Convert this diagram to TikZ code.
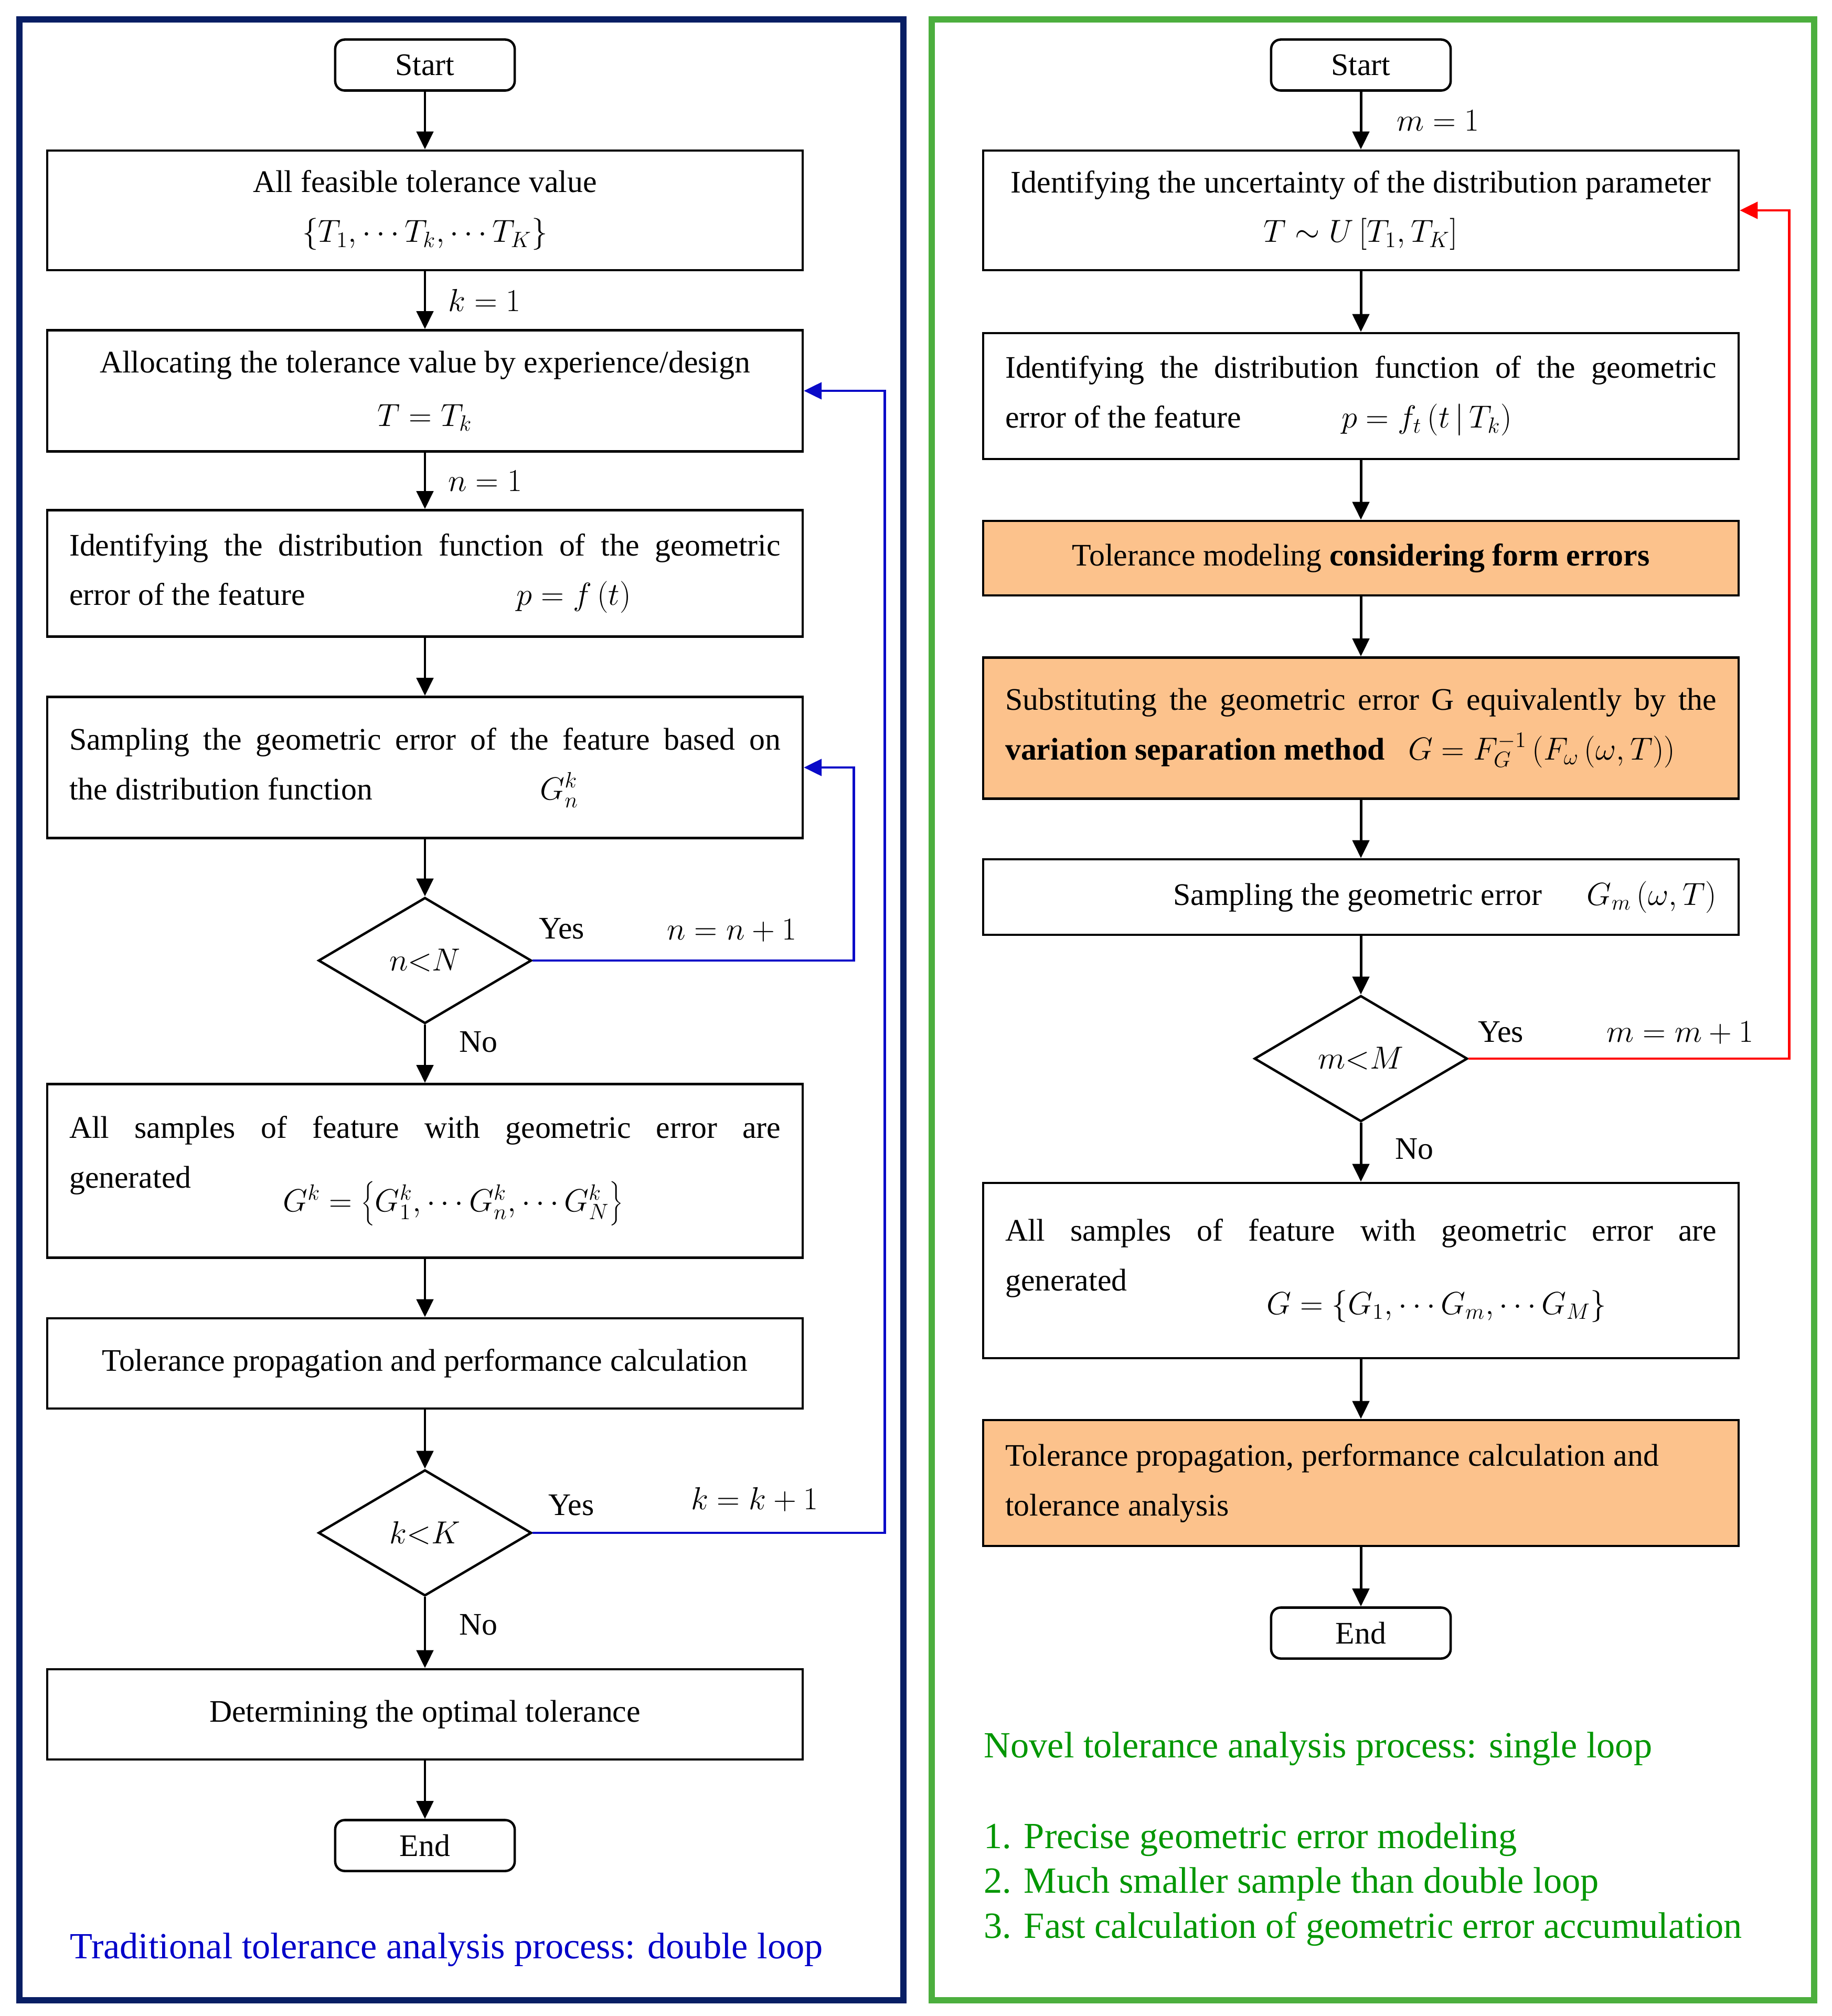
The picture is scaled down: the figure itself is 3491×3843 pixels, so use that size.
\documentclass[tikz,border=0pt]{standalone}
\usepackage{fontspec}
\setmainfont{Liberation Serif}
\usetikzlibrary{arrows.meta,shapes.geometric}

\definecolor{navyframe}{RGB}{8,30,100}
\definecolor{greenframe}{RGB}{76,175,62}
\definecolor{loopblue}{RGB}{10,10,200}
\definecolor{capblue}{RGB}{0,0,200}
\definecolor{capgreen}{RGB}{0,150,0}
\definecolor{boxorange}{RGB}{252,194,140}

\begin{document}
\begin{tikzpicture}[x=0.01cm, y=-0.01cm,
  >={Triangle[length=0.34cm,width=0.32cm]},
  txt/.style={font=\fontsize{17}{27}\selectfont},
  box/.style={txt, draw, line width=1.3pt, minimum width=14.39cm, inner sep=0pt},
  cbox/.style={box, align=center},
  jbox/.style={box, text width=13.55cm, align=justify},
  hot/.style={fill=boxorange},
  term/.style={txt, draw, line width=1.3pt, rounded corners=0.18cm, minimum width=3.42cm, minimum height=0.97cm},
  test/.style={txt, draw, diamond, aspect=1.7, line width=1.3pt, minimum width=4.06cm, minimum height=2.4cm, inner sep=0pt},
  arr/.style={->, line width=1.4pt},
  lab/.style={txt, inner sep=0pt, text=black},
  captxt/.style={font=\fontsize{20}{24.4}\selectfont, inner sep=0pt}]
  \useasboundingbox (0,0) rectangle (3491,3843);
  % two frames
  \draw[navyframe, line width=3.4pt] (37,37) rectangle (1722,3813);
  \draw[greenframe, line width=3.4pt] (1776,37) rectangle (3458,3813);

  % traditional process (left)
  \node[term] (sL) at (810,124) {Start};
  \node[cbox, minimum height=2.28cm] (a1) at (810,401)
    {All feasible tolerance value\\ $\left\{T_1,\cdots T_k,\cdots T_K\right\}$};
  \node[cbox, minimum height=2.31cm] (a2) at (810,745)
    {Allocating the tolerance value by experience/design\\[2pt] $T=T_k$};
  \node[jbox, minimum height=2.41cm] (a3) at (810,1093)
    {Identifying the distribution function of the geometric\linebreak
     error of the feature\hfill$p=f\left(t\right)$\hspace*{2.85cm}\null};
  \node[jbox, minimum height=2.69cm] (a4) at (810,1463)
    {Sampling the geometric error of the feature based on\linebreak
     the distribution function\hfill$G_n^k$\hspace*{3.85cm}\null};
  \node[test] (d1) at (810,1831) {$n{<}N$};
  \node[jbox, minimum height=3.31cm] (a5) at (810,2232)
    {All samples of feature with geometric error are\linebreak
     generated\\[-14pt]
     \hspace*{4.07cm}$G^k=\left\{G_1^k,\cdots G_n^k,\cdots G_N^k\right\}$};
  \node[cbox, minimum height=1.72cm] (a6) at (810,2599)
    {Tolerance propagation and performance calculation};
  \node[test] (d2) at (810,2922) {$k{<}K$};
  \node[cbox, minimum height=1.72cm] (a7) at (810,3268)
    {Determining the optimal tolerance};
  \node[term] (eL) at (810,3518) {End};
  \node[captxt, text=capblue] (capL) at (851,3717)
    {Traditional tolerance analysis process: double loop};

  \draw[arr] (sL) -- (a1);
  \draw[arr] (a1) -- node[lab, right=0.42cm] {$k=1$} (a2);
  \draw[arr] (a2) -- node[lab, right=0.42cm] {$n=1$} (a3);
  \draw[arr] (a3) -- (a4);
  \draw[arr] (a4) -- (d1);
  \draw[arr] (d1) -- node[lab, pos=.3, right=0.63cm] {No} (a5);
  \draw[arr] (a5) -- (a6);
  \draw[arr] (a6) -- (d2);
  \draw[arr] (d2) -- node[lab, pos=.39, right=0.63cm] {No} (a7);
  \draw[arr] (a7) -- (eL);
  % blue loops
  \draw[arr, loopblue] (d1.east) -- node[lab, pos=.09, above=0.38cm] {Yes}
    node[lab, pos=.62, above=0.33cm] {$n=n+1$} ++(612,0) |- (a4.east);
  \draw[arr, loopblue] (d2.east) -- node[lab, pos=.11, above=0.3cm] {Yes}
    node[lab, pos=.63, above=0.38cm] {$k=k+1$} ++(671,0) |- (a2.east);

  % novel process (right)
  \node[term] (sR) at (2594,124) {Start};
  \node[cbox, minimum height=2.28cm] (b1) at (2594,401)
    {Identifying the uncertainty of the distribution parameter\\ $T\sim U\left[T_1,T_K\right]$};
  \node[jbox, minimum height=2.40cm] (b2) at (2594,755)
    {Identifying the distribution function of the geometric\linebreak
     error of the feature\hfill$p=f_t\left(t\,|\,T_k\right)$\hspace*{3.9cm}\null};
  \node[cbox, hot, minimum height=1.42cm] (b3) at (2594,1064)
    {Tolerance modeling \textbf{considering form errors}};
  \node[jbox, hot, minimum height=2.69cm] (b4) at (2594,1388)
    {Substituting the geometric error G equivalently by the\linebreak
     \textbf{variation separation method}\hspace{0.44cm}$G=F_G^{-1}\left(F_\omega\left(\omega,T\right)\right)$};
  \node[jbox, minimum height=1.44cm] (b5) at (2594,1710)
    {\hfill Sampling the geometric error\hspace{0.86cm}$G_m\left(\omega,T\right)$};
  \node[test] (d3) at (2594,2018) {$m{<}M$};
  \node[jbox, minimum height=3.34cm] (b6) at (2594,2422)
    {All samples of feature with geometric error are\linebreak
     generated\\[-14pt]
     \hspace*{4.98cm}$G=\left\{G_1,\cdots G_m,\cdots G_M\right\}$};
  \node[jbox, hot, minimum height=2.40cm] (b7) at (2594,2827)
    {Tolerance propagation, performance calculation and\\ tolerance analysis};
  \node[term] (eR) at (2594,3113) {End};
  \node[captxt, text=capgreen, anchor=west] (nvT) at (1875,3334)
    {Novel tolerance analysis process: single loop};
  \node[captxt, text=capgreen, anchor=west, align=left] (nvL) at (1875,3592)
    {1. Precise geometric error modeling\\
     2. Much smaller sample than double loop\\
     3. Fast calculation of geometric error accumulation};

  \draw[arr] (sR) -- node[lab, right=0.66cm] {$m=1$} (b1);
  \draw[arr] (b1) -- (b2);
  \draw[arr] (b2) -- (b3);
  \draw[arr] (b3) -- (b4);
  \draw[arr] (b4) -- (b5);
  \draw[arr] (b5) -- (d3);
  \draw[arr] (d3) -- node[lab, pos=.44, right=0.63cm] {No} (b6);
  \draw[arr] (b6) -- (b7);
  \draw[arr] (b7) -- (eR);
  % red loop
  \draw[arr, red] (d3.east) -- node[lab, pos=.10, above=0.28cm] {Yes}
    node[lab, pos=.66, above=0.25cm] {$m=m+1$} ++(611,0) |- (b1.east);
\end{tikzpicture}
\end{document}
